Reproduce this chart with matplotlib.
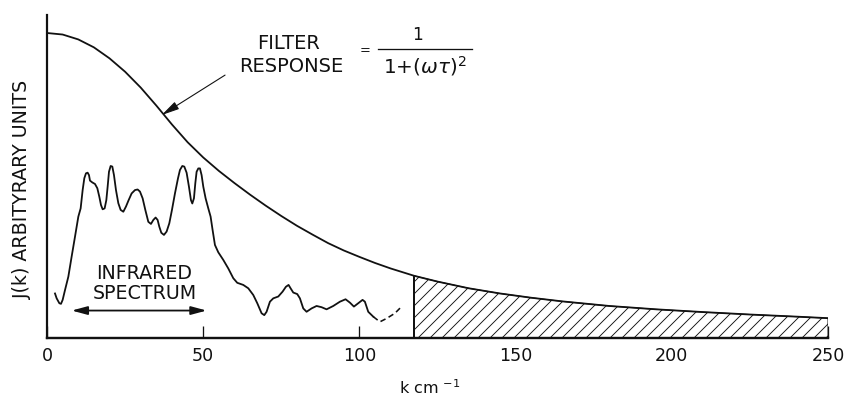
import matplotlib
matplotlib.use("Agg")
import matplotlib.pyplot as plt
import numpy as np

# Filter response curve, J(k) in arbitrary units
filter_k = [0, 5, 10, 15, 20, 25, 30, 35, 40, 45, 50, 55, 60, 65, 70, 75, 80, 85,
            90, 95, 100, 105, 110, 117.5, 125, 135, 145, 155, 165, 180, 195, 210,
            225, 240, 250]
filter_v = [1.000, 0.995, 0.979, 0.953, 0.917, 0.873, 0.821, 0.762, 0.700, 0.642,
            0.592, 0.548, 0.508, 0.470, 0.434, 0.400, 0.368, 0.339, 0.311, 0.287,
            0.266, 0.246, 0.228, 0.204, 0.185, 0.163, 0.146, 0.132, 0.120, 0.105,
            0.094, 0.085, 0.077, 0.070, 0.065]

# Measured infrared spectrum (solid part)
spec_k = [2.56, 3.09, 3.95, 4.48, 5.01, 5.76, 6.83, 7.89, 8.96, 10.03, 10.77, 11.41,
          11.95, 12.48, 13.01, 13.44, 13.76, 14.51, 15.36, 16.11, 16.75, 17.28,
          17.81, 18.45, 18.99, 19.41, 19.84, 20.37, 20.91, 21.44, 22.08, 22.83,
          23.57, 24.43, 25.28, 26.13, 27.09, 28.16, 29.01, 29.76, 30.61, 31.47,
          32.43, 33.28, 34.03, 34.77, 35.41, 35.95, 36.59, 37.44, 38.29, 39.15,
          40.00, 40.96, 41.92, 42.56, 43.31, 43.95, 44.69, 45.44, 46.08, 46.51,
          47.04, 47.47, 47.89, 48.43, 48.96, 49.49, 50.03, 50.77, 51.63, 52.37,
          53.01, 53.76, 54.83, 56.43, 58.03, 59.63, 60.90, 62.83, 64.43, 66.03,
          67.31, 68.69, 69.55, 70.29, 71.36, 72.43, 74.03, 75.41, 76.48, 77.33,
          77.97, 78.83, 80.11, 80.96, 82.03, 83.09, 84.69, 86.29, 87.89, 89.49,
          91.63, 93.76, 95.57, 96.96, 98.24, 99.63, 101.01, 101.76, 102.83, 104.43]
spec_v = [0.146, 0.130, 0.114, 0.112, 0.125, 0.157, 0.201, 0.267, 0.332, 0.398,
          0.425, 0.485, 0.524, 0.540, 0.542, 0.534, 0.516, 0.510, 0.505, 0.491,
          0.463, 0.436, 0.422, 0.425, 0.452, 0.496, 0.545, 0.564, 0.562, 0.534,
          0.485, 0.442, 0.420, 0.414, 0.431, 0.452, 0.474, 0.485, 0.487, 0.480,
          0.458, 0.420, 0.381, 0.374, 0.387, 0.395, 0.387, 0.365, 0.345, 0.338,
          0.349, 0.376, 0.420, 0.474, 0.523, 0.551, 0.564, 0.562, 0.542, 0.496,
          0.452, 0.441, 0.458, 0.507, 0.545, 0.556, 0.556, 0.534, 0.496, 0.458,
          0.425, 0.398, 0.354, 0.305, 0.281, 0.256, 0.228, 0.196, 0.181, 0.174,
          0.163, 0.141, 0.114, 0.081, 0.075, 0.086, 0.119, 0.130, 0.136, 0.152,
          0.168, 0.174, 0.163, 0.149, 0.144, 0.130, 0.097, 0.086, 0.097, 0.105,
          0.101, 0.094, 0.105, 0.119, 0.127, 0.116, 0.103, 0.114, 0.125, 0.119,
          0.086, 0.070]

# Extrapolated continuation (dashed)
ext_k = [104.43, 106.56, 108.69, 111.36, 113.49]
ext_v = [0.070, 0.053, 0.064, 0.081, 0.103]

# Cut-off wavenumber where the shaded tail starts
cutoff_k = 117.5

xticks = [0, 50, 100, 150, 200, 250]
xtick_labels = ["0", "50", "100", "150", "200", "250"]

W, H, DPI = 845, 396, 72
fig = plt.figure(figsize=(W / DPI, H / DPI), dpi=DPI)
plt.rcParams['hatch.linewidth'] = 0.9

x0, x1 = 47, 828      # pixel columns of k = 0 and k = 250
yb, yt = 338, 15      # pixel rows of axis bottom and top
ax = fig.add_axes([x0 / W, (H - yb) / H, (x1 - x0) / W, (yb - yt) / H])
ymax = (yb - yt) / 305.0
ax.set_xlim(0, 250)
ax.set_ylim(0, ymax)

ink = "#111111"
fk = np.array(filter_k)
fv = np.array(filter_v)
ax.plot(fk, fv, color=ink, lw=1.8, solid_joinstyle="round", zorder=3)

tail = fk >= cutoff_k
ax.fill_between(fk[tail], 0, fv[tail], facecolor="white", edgecolor=ink,
                hatch="//", linewidth=1.0, zorder=2)
ax.plot([cutoff_k, cutoff_k], [0, np.interp(cutoff_k, fk, fv)], color=ink,
        lw=2.0, zorder=3)

ax.plot(spec_k, spec_v, color=ink, lw=1.8, solid_joinstyle="round", zorder=3)
ax.plot(ext_k, ext_v, color=ink, lw=1.6, dashes=[3.5, 2.2], zorder=3)

# Axes styling
for side in ("top", "right"):
    ax.spines[side].set_visible(False)
ax.spines["left"].set_linewidth(2.2)
ax.spines["bottom"].set_linewidth(2.4)
ax.spines["left"].set_color(ink)
ax.spines["bottom"].set_color(ink)
ax.set_yticks([])
ax.set_xticks(xticks)
ax.set_xticklabels(xtick_labels)
ax.tick_params(axis="x", direction="in", length=12, width=1.3, color=ink,
               pad=9, labelsize=17.5, labelcolor=ink)

# Axis titles
fig.text(23 / W, (H - 190) / H, "J(k) ARBITYRARY UNITS", rotation=90,
         ha="center", va="center", fontsize=19, color=ink)
fig.text(430 / W, (H - 388) / H, r"k cm $^{\mathregular{-1}}$", ha="center",
         va="center", fontsize=16, color=ink)

# Filter response label with formula
ax.text(77.4, 0.966, "FILTER", ha="center", va="center", fontsize=19.5, color=ink)
ax.text(78.2, 0.890, "RESPONSE", ha="center", va="center", fontsize=19.5, color=ink)
ax.text(101.8, 0.942, "=", ha="center", va="center", fontsize=13, color=ink)
ax.text(118.7, 0.995, "1", ha="center", va="center", fontsize=17, color=ink)
ax.plot([105.9, 136.0], [0.948, 0.948], color=ink, lw=1.3)
ax.text(120.8, 0.893, r"1+($\omega\tau$)$^{\mathregular{2}}$", ha="center",
        va="center", fontsize=20, color=ink)
ax.annotate("", xy=(36.7, 0.731), xytext=(57.0, 0.862),
            arrowprops=dict(arrowstyle="-|>,head_length=1.5,head_width=0.35",
                            color=ink, lw=1.1, shrinkA=0, shrinkB=0))

# Infrared spectrum label with double arrow
ax.text(31.0, 0.213, "INFRARED", ha="center", va="center", fontsize=19, color=ink)
ax.text(31.4, 0.147, "SPECTRUM", ha="center", va="center", fontsize=19, color=ink)
ax.annotate("", xy=(51.1, 0.090), xytext=(7.9, 0.090),
            arrowprops=dict(arrowstyle="<|-|>,head_length=1.3,head_width=0.35",
                            color=ink, lw=1.8, shrinkA=0, shrinkB=0))

fig.savefig("out.png", dpi=DPI, facecolor="white")
